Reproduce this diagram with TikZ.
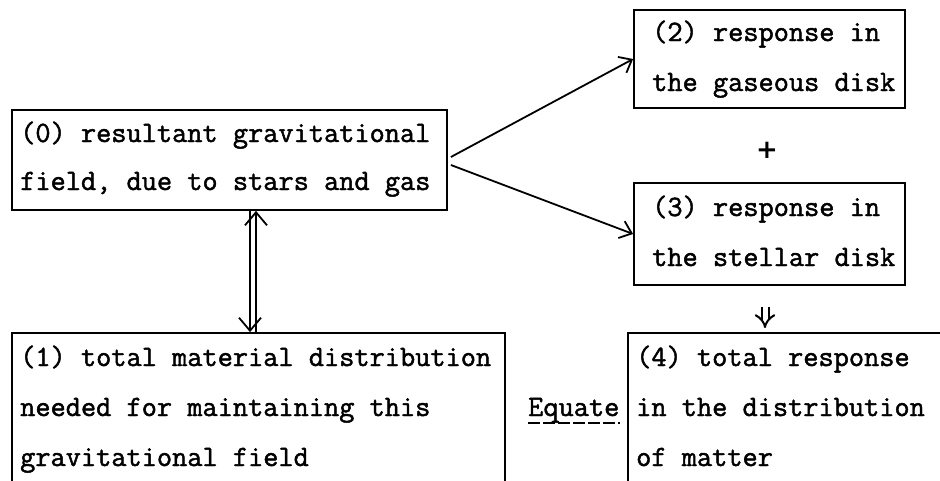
\documentclass[tikz,border=0pt]{standalone}
\usepackage{fontspec}
\newfontfamily\tw[FakeBold=1.6]{Latin Modern Mono}
\newfontfamily\plusfont{DejaVu Sans}
\usetikzlibrary{arrows.meta,calc}
\tikzset{
  box/.style={draw, line width=1.8pt, rectangle, inner sep=0pt},
  txt/.style={anchor=base west, inner sep=0pt, font=\tw\fontsize{29.5}{30}\selectfont},
  arr/.style={line width=1.8pt, -{Straight Barb[length=11pt,width=18pt,line width=1.8pt]}},
  varr/.style={line width=1.6pt, -{Straight Barb[length=13pt,width=22pt,line width=1.8pt]}},
  dbl/.style={double, double distance=5pt, line width=2pt, -{Implies[length=8pt]}}
}
\begin{document}
\begin{tikzpicture}[x=1pt,y=-1pt]
\useasboundingbox (0,0) rectangle (940,480);
\clip (0,0) rectangle (940,480);
% boxes
\node[box, minimum width=435pt, minimum height=100pt] (b0) at (229.5,160) {};
\node[box, minimum width=271pt, minimum height=98pt] (b2) at (769.5,59) {};
\node[box, minimum width=271pt, minimum height=102pt] (b3) at (769.5,234) {};
\node[box, minimum width=493pt, minimum height=190pt] (b1) at (258.5,428) {};
\node[box, minimum width=340pt, minimum height=190pt] (b4) at (798,428) {};
% texts
\node[txt] (t0a) at (20,142) {(0) resultant gravitational};
\node[txt] (t0b) at (20,190) {field, due to stars and gas};
\node[txt] (t2a) at (652,41) {(2) response in};
\node[txt] (t2b) at (652,91) {the gaseous disk};
\node[txt] (t3a) at (652,216) {(3) response in};
\node[txt] (t3b) at (652,266) {the stellar disk};
\node[txt] (t1a) at (20,366) {(1) total material distribution};
\node[txt] (t1b) at (20,416) {needed for maintaining this};
\node[txt] (t1c) at (20,466) {gravitational field};
\node[txt] (t4a) at (636,366) {(4) total response};
\node[txt] (t4b) at (636,416) {in the distribution};
\node[txt] (t4c) at (636,466) {of matter};
\node[txt] (eq) at (528,416) {Equate};
\draw[line width=1.6pt, dash pattern=on 12pt off 3pt] ($(eq.base west)+(0,7)$) -- ($(eq.base east)+(0,7)$);
\node[inner sep=0pt, font=\plusfont\fontsize{26}{26}\selectfont\bfseries] (plus) at (767,150) {+};
% connectors
\draw[arr] ($(b0.east)+(3,-3)$) -- (b2.west);
\draw[arr] ($(b0.east)+(3,5)$) -- (b3.west);
\coordinate (xL) at (250,0);
\coordinate (xR) at (256,0);
\coordinate (xD) at (765,0);
\draw[varr] (b0.south -| xL) -- (b1.north -| xL);
\draw[varr] (b1.north -| xR) -- (b0.south -| xR);
\draw[dbl, shorten <=21pt, shorten >=4pt] (b3.south -| xD) -- (b4.north -| xD);
\end{tikzpicture}
\end{document}
